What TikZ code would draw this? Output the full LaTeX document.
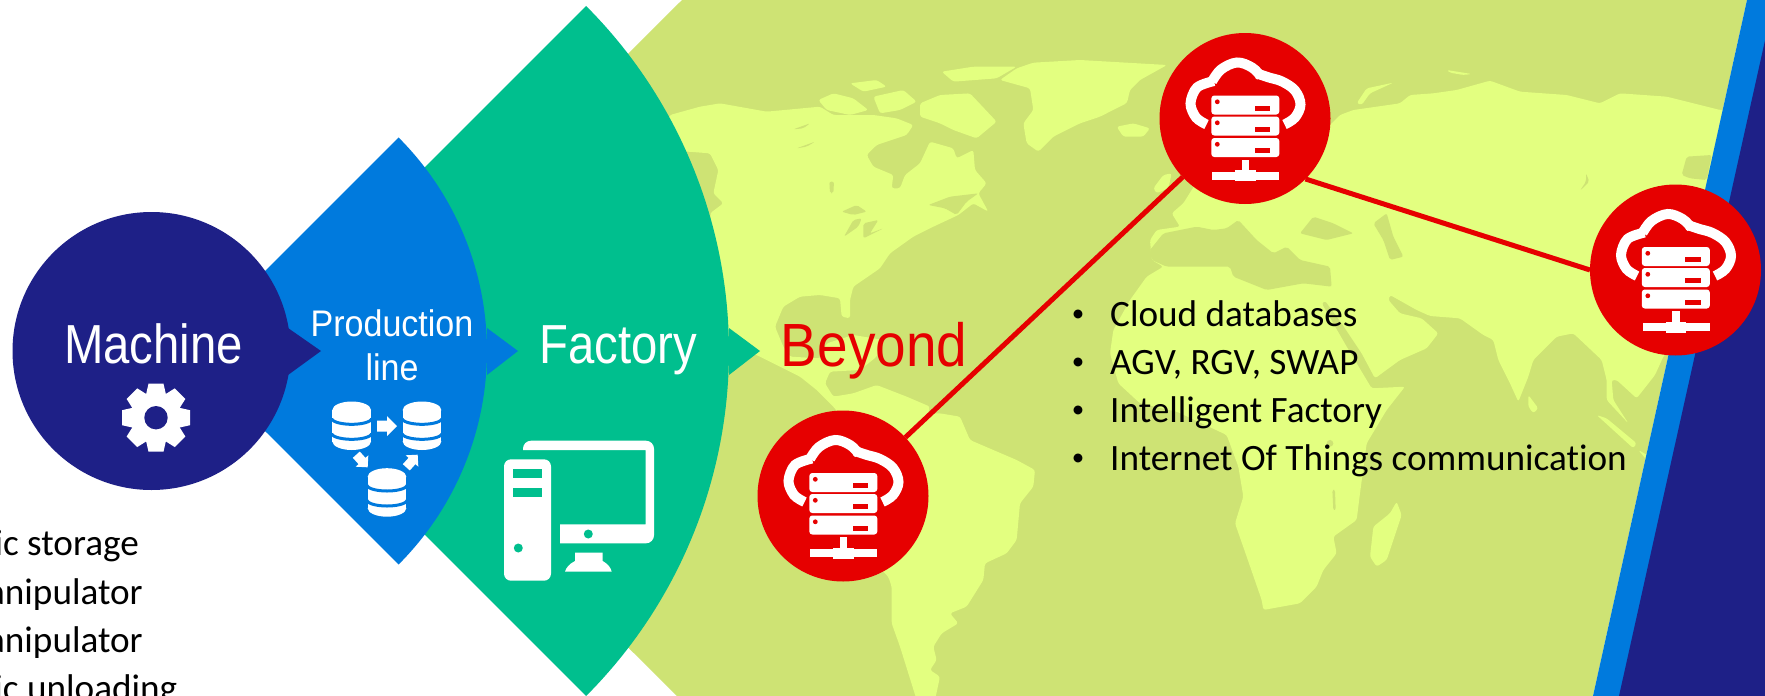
\documentclass[tikz,border=0pt]{standalone}
\usepackage{fontspec}
\setmainfont[Ligatures=NoCommon]{Carlito}
\newfontfamily\condA[FakeStretch=0.86]{Liberation Sans}
\newfontfamily\condB[FakeStretch=0.92]{Liberation Sans}
\newfontfamily\condC[FakeStretch=0.9]{Liberation Sans}
\definecolor{navyc}{HTML}{1E2087}
\definecolor{bluec}{HTML}{007ADD}
\definecolor{greenc}{HTML}{00BF8E}
\definecolor{oceanc}{HTML}{CEE374}
\definecolor{landc}{HTML}{E3FF80}
\definecolor{redc}{HTML}{E60000}
\tikzset{
  landpart/.style={fill=landc,rounded corners=2.5pt},
  seapart/.style={fill=oceanc,rounded corners=2pt},
  redcircle/.style={circle,fill=redc,minimum size=171pt,inner sep=0pt,outer sep=0pt},
  link/.style={draw=redc,line width=5pt},
  bigtext/.style={text=white,anchor=base,inner sep=0pt},
  listtext/.style={text=black,anchor=base west,inner sep=0pt,font=\fontsize{37.2}{40}\selectfont},
  listbullet/.style={text=black,anchor=base,inner sep=0pt,font=\fontsize{25}{28}\selectfont},
  lefttext/.style={text=black,anchor=base east,inner sep=0pt,font=\fontsize{37.2}{40}\selectfont},
}
\newcommand{\cloudicon}[1]{%
  \begin{scope}[shift={(#1.center)}]
    \draw[white,line width=10pt] plot[smooth,tension=.55] coordinates
      {(-38.5,6) (-49,-1) (-54.5,-15) (-48,-31) (-31,-37.5)};
    \draw[white,line width=10pt] plot[smooth,tension=.6] coordinates
      {(-33,-37) (-24,-49) (-8,-56) (7,-51) (16,-42)};
    \draw[white,line width=10pt] plot[smooth,tension=.6] coordinates
      {(12,-45) (24,-41) (37,-37) (50,-28) (55.5,-14) (50,-1) (39.5,6)};
    \foreach \dy in {0,21,42.5}{
      \fill[white,rounded corners=3pt] (-33.7,-23+\dy) rectangle (34.3,-4+\dy);
      \fill[redc] (-27.7,-16.7+\dy) circle (2.4);
      \fill[redc] (9.7,-13+\dy) rectangle (25.3,-7.7+\dy);
    }
    \fill[white] (-3.3,41) rectangle (4,55);
    \fill[white] (-33,53.3) rectangle (34,61);
    \fill[white] (-10,51.7) rectangle (10.7,62.7);
  \end{scope}}
\newcommand{\dbcyl}[2]{%
  \begin{scope}[shift={(#1,#2)}]
    \fill[white] (-19.3,0) rectangle (19.3,31.5);
    \fill[white] (0,0) ellipse [x radius=19.3,y radius=8.5];
    \fill[white] (0,31.5) ellipse [x radius=19.3,y radius=8.5];
    \foreach \dy in {8.3,23.3}{
      \draw[bluec,line width=3pt] plot[domain=0:180,samples=25,variable=\t]
        ({20*cos(\t)},{\dy+6*sin(\t)});
    }
  \end{scope}}
\newcommand{\dbarrow}[4]{%
  \fill[white,shift={(#1,#2)},rotate=#3,scale=#4]
    (-10,-5.5) -- (0,-5.5) -- (0,-10) -- (10,0) -- (0,10) -- (0,5.5) -- (-10,5.5) -- cycle;}
\begin{document}
\begin{tikzpicture}[x=1pt,y=-1pt]
\useasboundingbox (0,0) rectangle (1765,696);
\clip (0,0) rectangle (1765,696);
\fill[white] (0,0) rectangle (1765,696);
% Beyond field
\fill[oceanc] (682,0) -- (1747,0) -- (1593,696) -- (677,696) -- (330,351) -- cycle;
% World map
\begin{scope}
\clip (682,0) -- (1747,0) -- (1593,696) -- (677,696) -- (330,351) -- cycle;
\begin{scope}[shift={(620,60)},x=0.33333pt,y=-0.33333pt]
  % North America
  \fill[landpart] (150,165) -- (240,140) -- (300,130) -- (440,155) -- (600,140) -- (640,165)
    -- (760,165) -- (830,175) -- (880,195) -- (860,225) -- (770,255) -- (740,285) -- (760,320)
    -- (820,345) -- (815,385) -- (840,385) -- (855,345) -- (900,310) -- (930,245) -- (1000,265)
    -- (1010,295) -- (1060,270) -- (1065,330) -- (1100,370) -- (1075,400) -- (1105,455)
    -- (1060,430) -- (1015,465) -- (940,500) -- (880,530) -- (810,580) -- (780,625) -- (700,680)
    -- (690,720) -- (690,775) -- (665,770) -- (660,715) -- (600,705) -- (540,710) -- (490,740)
    -- (465,800) -- (490,860) -- (510,890) -- (600,895) -- (620,850) -- (700,825) -- (790,840)
    -- (770,890) -- (720,930) -- (630,935) -- (615,970) -- (640,1010) -- (700,1000) -- (770,975)
    -- (860,1010) -- (930,1040) -- (850,1300) -- (640,1040) -- (590,990) -- (540,950) -- (420,890)
    -- (330,850) -- (270,460) -- (310,430) -- (280,400) -- (295,330) -- (270,280) -- (205,275)
    -- (100,275) -- cycle;
  % Arctic islands
  \fill[landpart] (595,120) -- (640,100) -- (700,115) -- (745,150) -- (690,165) -- (620,150) -- cycle;
  \fill[landpart] (690,70) -- (770,60) -- (800,80) -- (730,95) -- cycle;
  \fill[landpart] (760,110) -- (850,90) -- (890,125) -- (840,150) -- (780,160) -- cycle;
  \fill[landpart] (900,130) -- (960,105) -- (1050,100) -- (1130,185) -- (1070,235) -- (1000,210)
    -- (960,190) -- (900,170) -- cycle;
  \fill[landpart] (965,35) -- (1060,20) -- (1190,20) -- (1130,55) -- (1000,65) -- cycle;
  % Greenland
  \fill[landpart] (1140,60) -- (1190,25) -- (1240,8) -- (1380,0) -- (1641,15) -- (1560,60)
    -- (1530,90) -- (1521,129) -- (1440,170) -- (1380,190) -- (1300,230) -- (1255,275)
    -- (1220,250) -- (1210,190) -- (1240,150) -- (1230,85) -- cycle;
  % Lakes and gulfs
  \fill[seapart] (665,455) -- (710,435) -- (740,455) -- (700,465) -- cycle;
  \fill[seapart] (672,530) -- (700,480) -- (725,475) -- (715,500) -- cycle;
  \fill[seapart] (730,490) -- (775,480) -- (750,520) -- (790,505) -- (730,535) -- cycle;
  \fill[seapart] (520,208) -- (570,190) -- (550,205) -- cycle;
  \fill[seapart] (530,265) -- (585,245) -- (560,260) -- cycle;
  \fill[seapart] (628,365) -- (642,365) -- (640,400) -- (630,400) -- cycle;
  \fill[seapart] (925,435) -- (990,410) -- (1075,400) -- (1040,425) -- (1010,465) -- (975,445) -- cycle;
\end{scope}
\begin{scope}[shift={(760,400)},x=0.33333pt,y=-0.33333pt]
  % South America
  \fill[landpart] (250,100) -- (400,40) -- (540,40) -- (600,50) -- (630,120) -- (700,150)
    -- (770,180) -- (825,210) -- (820,260) -- (780,310) -- (770,420) -- (740,460) -- (675,490)
    -- (670,540) -- (620,620) -- (570,640) -- (595,670) -- (545,700) -- (520,740) -- (530,780)
    -- (510,810) -- (540,830) -- (525,900) -- (470,900) -- (420,740) -- (395,670) -- (395,560)
    -- (385,530) -- (250,400) -- cycle;
\end{scope}
\begin{scope}[shift={(1100,60)},x=0.33333pt,y=-0.33333pt]
  % Eurasia and Africa
  \fill[landpart] (300,350) -- (500,200) -- (690,195) -- (720,165) -- (760,150) -- (900,130)
    -- (930,105) -- (1000,100) -- (1070,90) -- (1170,62) -- (1260,95) -- (1400,105) -- (1500,130)
    -- (1560,100) -- (1700,110) -- (1860,150) -- (1950,150) -- (1900,600) -- (1690,890)
    -- (1665,945) -- (1610,1015) -- (1550,960) -- (1535,960) -- (1540,1020) -- (1585,1090)
    -- (1520,1020) -- (1520,960) -- (1505,900) -- (1420,820) -- (1370,830) -- (1300,900)
    -- (1285,950) -- (1255,1025) -- (1230,970) -- (1195,900) -- (1180,840) -- (1150,825)
    -- (1080,775) -- (990,768) -- (950,750) -- (870,705) -- (865,720) -- (900,760) -- (965,775)
    -- (1015,820) -- (980,865) -- (900,900) -- (825,955) -- (785,880) -- (725,790) -- (675,722)
    -- (665,730) -- (740,860) -- (815,985) -- (915,980) -- (860,1050) -- (800,1150) -- (780,1300)
    -- (770,1380) -- (700,1430) -- (710,1480) -- (670,1530) -- (650,1580) -- (600,1630)
    -- (490,1650) -- (485,1620) -- (440,1490) -- (405,1390) -- (430,1310) -- (415,1220)
    -- (380,1125) -- (230,1055) -- (120,1030) -- (55,970) -- (30,880) -- (40,810) -- (90,720)
    -- (140,650) -- (190,620) -- (155,600) -- (150,540) -- (170,510) -- (240,500) -- (215,460)
    -- (250,430) -- cycle;
  % Novaya Zemlya, Iceland, Britain and others
  \fill[landpart] (770,130) -- (800,85) -- (880,68) -- (810,100) -- (785,135) -- cycle;
  \fill[landpart] (50,200) -- (100,190) -- (150,205) -- (130,230) -- (70,230) -- cycle;
  \fill[landpart] (160,385) -- (190,345) -- (215,340) -- (205,385) -- (170,400) -- cycle;
  \fill[landpart] (1040,30) -- (1115,42) -- (1090,45) -- (1050,38) -- cycle;
  % Madagascar, Sri Lanka, Sumatra, Java
  \fill[landpart] (890,1325) -- (905,1365) -- (860,1500) -- (830,1520) -- (810,1490) -- (820,1400) -- (870,1360) -- cycle;
  \fill[landpart] (1285,1005) -- (1315,1045) -- (1300,1060) -- (1285,1040) -- cycle;
  \fill[landpart] (1490,1065) -- (1520,1075) -- (1610,1150) -- (1600,1165) -- cycle;
  \fill[landpart] (1615,1170) -- (1650,1190) -- (1640,1200) -- cycle;
  % Inland seas
  \fill[seapart] (150,570) -- (190,520) -- (290,500) -- (340,510) -- (380,505) -- (415,480)
    -- (470,540) -- (520,580) -- (560,560) -- (600,600) -- (690,620) -- (695,680) -- (610,670)
    -- (500,690) -- (400,650) -- (390,620) -- (200,620) -- (155,600) -- cycle;
  \fill[seapart] (600,520) -- (640,470) -- (700,490) -- (760,520) -- (680,540) -- cycle;
  \fill[seapart] (820,490) -- (860,460) -- (880,530) -- (910,590) -- (870,600) -- (850,540) -- cycle;
  \fill[seapart] (1760,290) -- (1835,285) -- (1820,360) -- (1770,355) -- (1745,345) -- cycle;
  \fill[seapart] (1458,340) -- (1468,365) -- (1440,392) -- (1458,365) -- cycle;
  \fill[seapart] (697,1290) -- (705,1290) -- (707,1350) -- (700,1350) -- cycle;
  \fill[seapart] (690,1150) circle (10);
\end{scope}
\end{scope}
% Right band
\fill[bluec] (1747,0) -- (1800,0) -- (1800,696) -- (1593,696) -- cycle;
\fill[navyc] (1774,0) -- (1800,0) -- (1800,696) -- (1619,696) -- cycle;
% Factory sector
\fill[greenc] (729,328) -- (760,351) -- (729,375) -- cycle;
\fill[greenc] (241,351) -- plot[domain=-45:45,samples=90] ({241+488*cos(\x)},{351+488*sin(\x)}) -- cycle;
% Production line sector
\fill[bluec] (487,328) -- (518,351) -- (487,375) -- cycle;
\fill[bluec] (185,351) -- plot[domain=-45:45,samples=90] ({185+302*cos(\x)},{351+302*sin(\x)}) -- cycle;
% Machine circle
\node[circle,fill=navyc,minimum size=278pt,inner sep=0pt] (machinedisc) at (151.5,351) {};
\fill[navyc] (288,328) -- (321,351) -- (288,375) -- cycle;
% Labels
\node[bigtext,font=\condA\fontsize{55}{60}\selectfont] (machine) at (153.5,363) {Machine};
\node[bigtext,font=\condB\fontsize{37}{40}\selectfont] (production) at (392,336) {Production};
\node[bigtext,font=\condB\fontsize{37}{40}\selectfont] (line) at (392,380.5) {line};
\node[bigtext,font=\condA\fontsize{55}{60}\selectfont] (factory) at (618,363) {Factory};
\node[bigtext,text=redc,font=\condC\fontsize{61}{66}\selectfont] (beyond) at (874,366) {Beyond};
% Gear
\begin{scope}[shift={(156,417.7)}]
  \fill[white] (0,0) circle (25.5);
  \foreach \a in {0,45,...,315}{
    \fill[white,rotate=\a] (-10,-23) -- (-7.5,-34) -- (7.5,-34) -- (10,-23) -- cycle;
  }
  \fill[navyc] (0,0) circle (11.7);
\end{scope}
% Database icon
\dbcyl{351.7}{410}
\dbcyl{422}{410}
\dbcyl{387}{476.7}
\dbarrow{387}{426}{0}{1}
\dbarrow{362}{461}{-48}{0.85}
\dbarrow{412}{461}{48}{0.85}
% Computer icon
\fill[white,rounded corners=7pt] (504,459.3) rectangle (551,580.7);
\fill[greenc] (513.3,469) rectangle (541.7,478);
\fill[greenc] (513.3,487.7) rectangle (541.7,496.7);
\fill[greenc] (518.3,548) circle (4.5);
\fill[white,rounded corners=8pt] (523,450) [sharp corners] -- (523,450) [rounded corners=8pt] -- (523,440.7) -- (654,440.7) -- (654,543.3) [sharp corners] -- (560,543.3) -- (560,524.3) -- (645.7,524.3) -- (645.7,450) -- cycle;
\fill[greenc] (588.3,534) circle (4.5);
\fill[white] (575,552.7) -- (602.7,552.7) -- (602.7,561) .. controls (608,564) and (611,568) .. (611.7,571.7) -- (565,571.7) .. controls (566,568) and (569,564) .. (575,561) -- cycle;
% List
\node[listbullet] (b1) at (1078,321.5) {•};
\node[listbullet] (b2) at (1078,369.5) {•};
\node[listbullet] (b3) at (1078,417.5) {•};
\node[listbullet] (b4) at (1078,465.5) {•};
\node[listtext] (t1) at (1110,326) {Cloud databases};
\node[listtext] (t2) at (1110,374) {AGV, RGV, SWAP};
\node[listtext] (t3) at (1110,422) {Intelligent Factory};
\node[listtext] (t4) at (1110,470) {Internet Of Things communication};
% Left fragment
\node[lefttext] (f1) at (139,555) {ic storage};
\node[lefttext] (f2) at (143,604) {anipulator};
\node[lefttext] (f3) at (143,652) {anipulator};
\node[lefttext] (f4) at (177.5,700) {ic unloading};
% Cloud servers
\node[redcircle] (c1) at (1245,118.5) {};
\node[redcircle] (c2) at (1675.5,270) {};
\node[redcircle] (c3) at (843,496) {};
\cloudicon{c1}
\cloudicon{c2}
\cloudicon{c3}
\draw[link] (c3) -- (c1);
\draw[link] (c1.-45) -- (c2.west);
\end{tikzpicture}
\end{document}
